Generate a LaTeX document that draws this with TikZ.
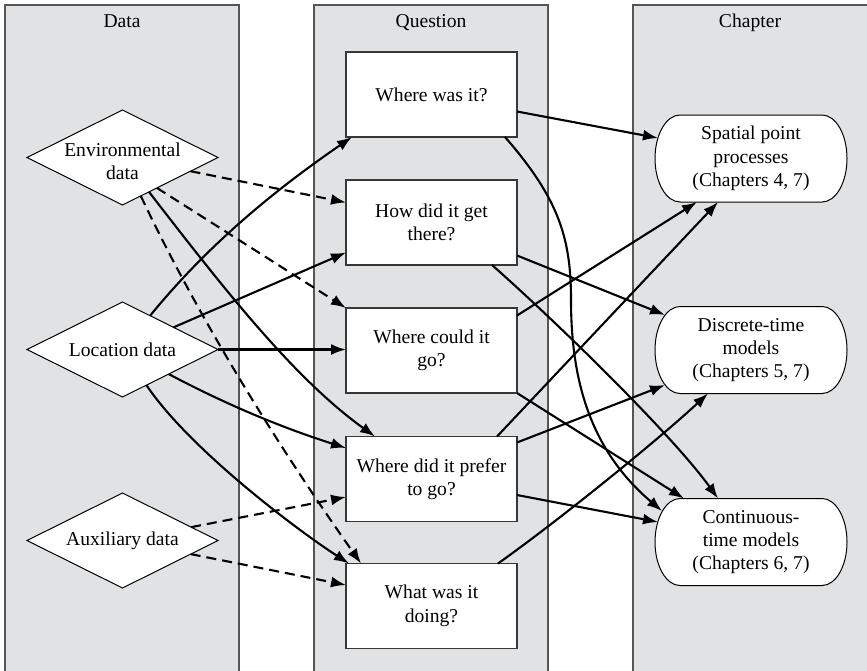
\documentclass[tikz,border=0pt]{standalone}
\usepackage{fontspec}
\setmainfont{Liberation Serif}
\usetikzlibrary{arrows.meta,shapes.geometric,calc}
\definecolor{panelfill}{RGB}{225,226,228}
\definecolor{panelline}{RGB}{85,85,85}
\definecolor{boxline}{RGB}{55,55,55}
\newcommand\chapoutline[2]{%
  \draw[chapline] (#1-71,#2-43.5) -- (#1+71,#2-43.5)
    arc[start angle=-90,end angle=90,x radius=25,y radius=43.5]
    -- (#1-71,#2+43.5)
    arc[start angle=90,end angle=270,x radius=25,y radius=43.5] -- cycle;}
\tikzset{
  every node/.style={font=\fontsize{9.8}{11.7}\selectfont},
  qbox/.style={draw=boxline, line width=0.7pt, fill=white, minimum width=85.5pt,
    minimum height=42.5pt, inner sep=0pt, outer sep=0pt, align=center},
  datad/.style={diamond, draw=black, line width=0.5pt, fill=white, minimum width=95.5pt,
    minimum height=47.5pt, inner sep=0pt, outer sep=0pt},
  chapnode/.style={minimum width=96pt, minimum height=43.5pt, inner sep=0pt,
    outer sep=0pt, align=center},
  chapline/.style={draw=black, line width=0.5pt, fill=white},
  panel/.style={draw=panelline, line width=0.75pt, fill=panelfill},
  ptitle/.style={anchor=base},
  conn/.style={line width=1.05pt, -{Latex[length=7.5pt,width=5.5pt]}},
  solidarrow/.style={conn},
  dasharrow/.style={conn, dash pattern=on 5pt off 3pt},
}
\begin{document}
\begin{tikzpicture}[x=0.5pt,y=-0.5pt]
\useasboundingbox (0,0) rectangle (867,670);
\clip (0,0) rectangle (867,670);
% panels
\draw[panel] (5,5) rectangle (239,680);
\draw[panel] (314,5) rectangle (548,680);
\draw[panel] (633,5) rectangle (880,680);
\node[ptitle] (tD) at (122,27) {Data};
\node[ptitle] (tQ) at (431,27) {Question};
\node[ptitle] (tC) at (750,27) {Chapter};
% data diamonds
\node[datad, label={[align=center,yshift=-2pt]center:Environmental\\data}] (E) at (122.5,157.5) {};
\node[datad, label={center:Location data}] (L) at (122.5,349.5) {};
\node[datad, label={center:Auxiliary data}] (A) at (122.5,540.5) {};
% questions
\node[qbox] (Q1) at (431.5,94.5) {Where was it?};
\node[qbox] (Q2) at (431.5,222.5) {How did it get\\there?};
\node[qbox] (Q3) at (431.5,350.5) {Where could it\\go?};
\node[qbox] (Q4) at (431.5,479) {Where did it prefer\\to go?};
\node[qbox] (Q5) at (431.5,606) {What was it\\doing?};
% chapters
\chapoutline{751}{158.5}
\chapoutline{751}{350}
\chapoutline{751}{542}
\node[chapnode] (C1) at (751,158.5) {Spatial point\\processes\\(Chapters 4, 7)};
\node[chapnode] (C2) at (751,350) {Discrete-time\\models\\(Chapters 5, 7)};
\node[chapnode] (C3) at (751,542) {Continuous-\\time models\\(Chapters 6, 7)};
% data -> question
\draw[dasharrow] (E) -- ($(Q2.west)+(0,-20)$);
\draw[dasharrow] ($(E.south)!0.36!(E.east)$) -- (Q3.north west);
\draw[solidarrow] (E) .. controls (227,293) and (295,379) .. ($(Q4.north west)+(29,0)$);
\draw[dasharrow] (E) .. controls (202,325) and (281,450) .. ($(Q5.north west)+(15,0)$);
\draw[solidarrow] (L) .. controls (207,246) and (272,192) .. ($(Q1.south west)+(6,0)$);
\draw[solidarrow] (L) -- ($(Q2.west)+(0,30)$);
\draw[solidarrow] (L.east) -- (L.east -| Q3.west);
\draw[solidarrow] (L) .. controls (227,405) and (283,428) .. ($(Q4.west)+(0,-31)$);
\draw[solidarrow] (L) .. controls (190,450) and (300,532) .. ($(Q5.north west)+(3,0)$);
\draw[dasharrow] (A) -- ($(Q4.west)+(0,18)$);
\draw[dasharrow] (A) -- ($(Q5.west)+(0,-21)$);
% question -> chapter
\draw[solidarrow] ($(Q1.east)+(0,17)$) -- ($(C1.west)+(3,-20.5)$);
\draw[solidarrow] ($(Q1.south east)+(-12,0)$) .. controls (560,200) and (571,240) .. (571,300)
   .. controls (571,380) and (590,450) .. ($(C3.west)+(7,-31)$);
\draw[solidarrow] ($(Q2.east)+(0,33)$) -- ($(C2.west)+(10,-35)$);
\draw[solidarrow] ($(Q2.south east)+(-25,0)$) .. controls (562,327) and (673,436) .. ($(C3.north west)+(63,0)$);
\draw[solidarrow] ($(Q3.east)+(0,-35)$) -- ($(C1.south west)+(42,0)$);
\draw[solidarrow] (Q3.south east) -- ($(C3.north west)+(29,0)$);
\draw[solidarrow] ($(Q4.north east)+(-20,0)$) -- ($(C1.south west)+(63,0)$);
\draw[solidarrow] ($(Q4.north east)+(0,6)$) -- ($(C2.west)+(10,35)$);
\draw[solidarrow] ($(Q4.east)+(0,16)$) -- ($(C3.west)+(3,-20)$);
\draw[solidarrow] ($(Q5.north east)+(-19,0)$) .. controls (558,521) and (658,440) .. ($(C2.south west)+(53,0)$);
\end{tikzpicture}
\end{document}
